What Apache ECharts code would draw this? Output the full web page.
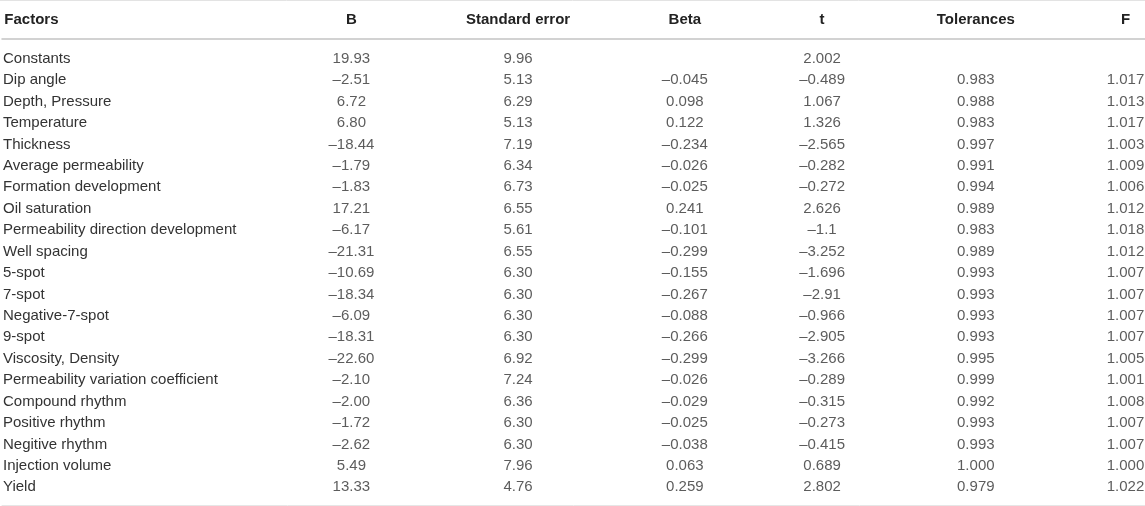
<!DOCTYPE html>
<html>
<head>
<meta charset="utf-8">
<script src="https://cdn.jsdelivr.net/npm/echarts@6/dist/echarts.min.js"></script>
<style>
html,body{margin:0;padding:0;background:#fff;}
#main{width:1145px;height:506px;}
</style>
</head>
<body>
<div id="main"></div>
<script>
// table content
var factors = ['Constants', 'Dip angle', 'Depth, Pressure', 'Temperature', 'Thickness',
	'Average permeability', 'Formation development', 'Oil saturation',
	'Permeability direction development', 'Well spacing', '5-spot', '7-spot',
	'Negative-7-spot', '9-spot', 'Viscosity, Density', 'Permeability variation coefficient',
	'Compound rhythm', 'Positive rhythm', 'Negitive rhythm', 'Injection volume', 'Yield'];
var headers = ['B', 'Standard error', 'Beta', 't', 'Tolerances', 'F'];
var colB = ['19.93', '-2.51', '6.72', '6.80', '-18.44', '-1.79', '-1.83', '17.21', '-6.17', '-21.31',
	'-10.69', '-18.34', '-6.09', '-18.31', '-22.60', '-2.10', '-2.00', '-1.72', '-2.62', '5.49', '13.33'];
var colSE = ['9.96', '5.13', '6.29', '5.13', '7.19', '6.34', '6.73', '6.55', '5.61', '6.55',
	'6.30', '6.30', '6.30', '6.30', '6.92', '7.24', '6.36', '6.30', '6.30', '7.96', '4.76'];
var colBeta = ['', '-0.045', '0.098', '0.122', '-0.234', '-0.026', '-0.025', '0.241', '-0.101', '-0.299',
	'-0.155', '-0.267', '-0.088', '-0.266', '-0.299', '-0.026', '-0.029', '-0.025', '-0.038', '0.063', '0.259'];
var colT = ['2.002', '-0.489', '1.067', '1.326', '-2.565', '-0.282', '-0.272', '2.626', '-1.1', '-3.252',
	'-1.696', '-2.91', '-0.966', '-2.905', '-3.266', '-0.289', '-0.315', '-0.273', '-0.415', '0.689', '2.802'];
var colTol = ['', '0.983', '0.988', '0.983', '0.997', '0.991', '0.994', '0.989', '0.983', '0.989',
	'0.993', '0.993', '0.993', '0.993', '0.995', '0.999', '0.992', '0.993', '0.993', '1.000', '0.979'];
var colF = ['', '1.017', '1.013', '1.017', '1.003', '1.009', '1.006', '1.012', '1.018', '1.012',
	'1.007', '1.007', '1.007', '1.007', '1.005', '1.001', '1.008', '1.007', '1.007', '1.000', '1.022'];

// layout: column centres in pixels (x axis runs 0..1145)
var colX = [350, 517, 684, 821.5, 975.5, 1125.5];
var factorsHeadX = 29.5;

var FONT = '"Liberation Sans", Arial, Helvetica, sans-serif';
var columns = [colB, colSE, colBeta, colT, colTol, colF];

var myChart = echarts.init(document.getElementById('main'));

var series = columns.map(function (col, c) {
	var data = [];
	col.forEach(function (v, i) {
		if (v !== '') data.push([colX[c], factors[i], v]);
	});
	return {
		type: 'scatter',
		xAxisIndex: 0,
		yAxisIndex: 0,
		data: data,
		symbolSize: 2,
		itemStyle: { color: 'rgba(0,0,0,0)' },
		silent: true,
		label: {
			show: true,
			position: 'inside',
			fontFamily: FONT,
			fontSize: 15,
			color: '#333',
			formatter: function (p) {
				return String(p.value[2]).replace('-', '\u2013');
			}
		}
	};
});

var headValues = [factorsHeadX].concat(colX);
var headNames = ['Factors'].concat(headers);

var option = {
	animation: false,
	grid: { left: 0, right: 0, top: 48, bottom: 8 },
	xAxis: [{
		type: 'value',
		position: 'top',
		min: 0,
		max: 1145,
		offset: 9.5,
		splitLine: { show: false },
		axisTick: { show: false },
		axisLine: { show: true, lineStyle: { color: '#c4c4c4', width: 1.5 } },
		axisLabel: {
			customValues: headValues,
			margin: 11,
			fontFamily: FONT,
			fontSize: 15,
			fontWeight: 'bold',
			color: '#222',
			formatter: function (v) {
				var k = headValues.indexOf(v);
				return k >= 0 ? headNames[k] : '';
			}
		}
	}, {
		type: 'value',
		position: 'bottom',
		min: 0,
		max: 1145,
		offset: 7,
		splitLine: { show: false },
		axisTick: { show: false },
		axisLabel: { show: false },
		axisLine: { show: true, lineStyle: { color: '#e6e6e6', width: 1 } }
	}],
	yAxis: {
		type: 'category',
		inverse: true,
		data: factors,
		axisLine: { show: false },
		axisTick: { show: false },
		splitLine: { show: false },
		axisLabel: {
			inside: true,
			align: 'left',
			margin: 1,
			interval: 0,
			fontFamily: FONT,
			fontSize: 15,
			color: '#333'
		}
	},
	graphic: [{
		type: 'line',
		shape: { x1: 0, y1: 0.5, x2: 1145, y2: 0.5 },
		style: { stroke: '#e3e3e3', lineWidth: 1 }
	}],
	series: series
};
myChart.setOption(option);
</script>
</body>
</html>
